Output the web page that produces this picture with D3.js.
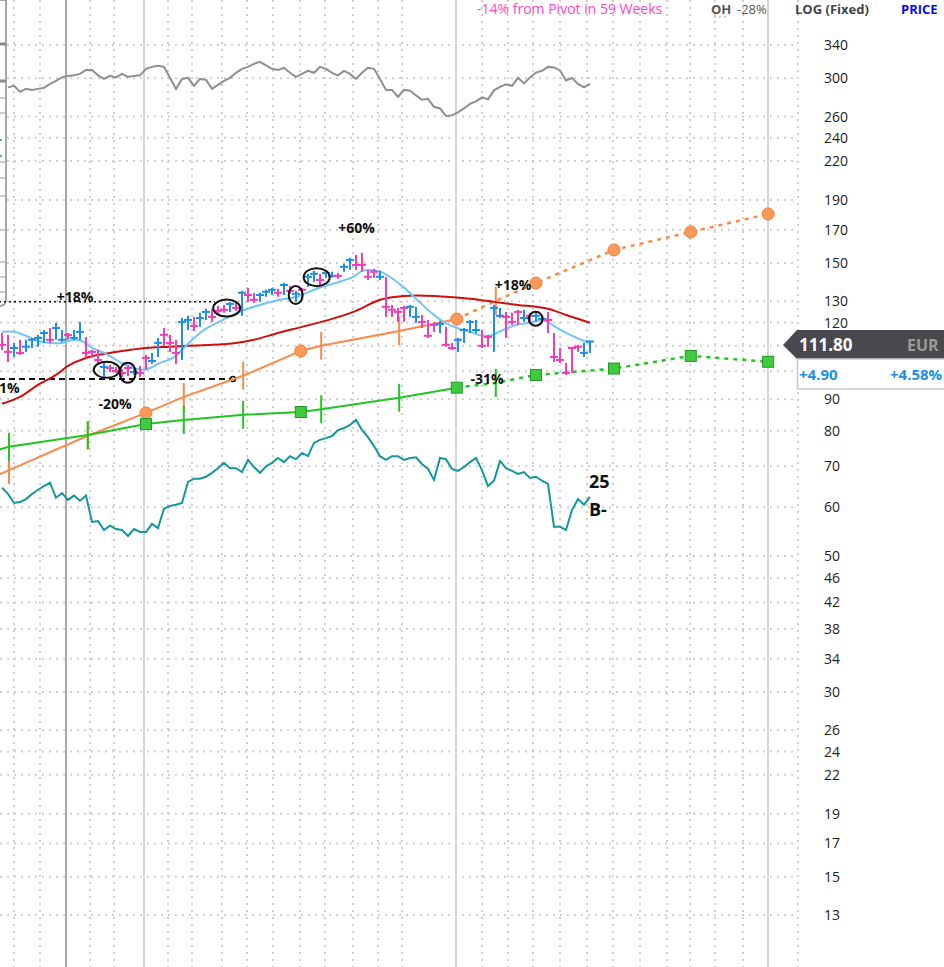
<!DOCTYPE html>
<html><head><meta charset="utf-8">
<script src="https://cdn.jsdelivr.net/npm/d3@7"></script>
<style>body{margin:0;background:#fff;overflow:hidden}svg{display:block;font-family:"Open Sans",sans-serif}</style>
</head><body><svg id="c" width="944" height="967"></svg>
<script>
// ---------- DATA ----------
const gridTicks = [340,300,260,240,220,190,170,150,130,120,110,100,90,80,70,60,50,46,42,38,34,30,26,24,22,19,17,15,13];
const labelTicks = [340,300,260,240,220,190,170,150,130,120,90,80,70,60,50,46,42,38,34,30,26,24,22,19,17,15,13];
const monthLines = [2,6.33,14.67,18.67,27.67,31.67,36.67,40.83,45.17,49.67,53.83,58.5,62.67,66.67,80,84.33,88.5,93,97.5,101.83,106.33,110.83,114.67,118.83,123.5,132.67];
const yearLines = [23.67,75.67,127.67];
const markerLine = 10.67;
// weekly bars (week index 0..98)
const barHigh  = [115.4,114.6,111.2,112.5,112.5,113.3,114.6,116.7,117.6,119.9,116.7,115.4,116.7,120.3,113.7,108.3,108.3,103.1,102.4,101.6,100.8,102.4,101.2,102.0,106.3,107.1,113.3,117.6,114.6,112.5,122.1,123.1,122.6,124.5,126.4,126.4,127.8,128.2,129.7,129.7,135.2,136.7,134.2,134.2,135.7,136.7,136.2,139.3,137.7,135.2,136.7,144.1,145.7,144.1,145.7,145.2,144.6,149.6,153.0,154.7,155.8,146.2,146.8,145.7,142.5,128.2,126.8,127.8,128.2,127.3,123.5,121.2,120.3,120.8,118.1,111.2,113.3,117.6,121.2,121.2,116.7,114.6,128.2,126.8,124.9,124.5,125.9,125.9,124.5,124.5,123.5,124.9,115.4,109.1,103.1,109.6,110.4,111.2,112.0];
const barLow   = [108.3,103.5,105.5,106.3,107.5,109.1,109.6,111.2,111.2,112.5,111.6,112.5,112.5,112.5,105.1,105.1,103.1,97.9,99.7,99.3,97.9,98.2,98.6,97.9,100.5,102.8,105.5,110.0,107.5,102.8,104.3,116.7,116.3,118.1,121.2,120.3,124.0,124.5,124.9,125.4,123.1,129.7,129.2,129.7,132.2,133.1,132.2,133.1,133.7,129.7,131.7,137.2,139.8,137.2,141.9,141.9,141.4,145.2,146.2,146.2,145.2,140.8,141.9,140.8,122.6,122.6,120.3,120.3,122.6,119.9,117.6,113.3,115.9,115.4,109.6,108.3,107.5,111.2,115.4,115.4,109.1,109.6,107.5,122.1,113.3,119.0,119.0,120.3,119.9,120.3,120.3,115.4,103.5,103.1,98.6,99.3,107.5,105.5,107.1];
const barClose = [110.4,107.5,109.1,107.1,109.6,112.5,113.3,115.4,112.5,117.6,112.5,114.6,113.3,115.9,107.1,107.5,104.3,101.6,101.2,100.1,99.3,101.2,99.7,99.3,105.1,103.9,111.2,114.6,111.2,107.1,120.3,121.2,118.5,122.1,124.9,122.6,125.4,125.9,128.7,126.8,134.2,133.1,130.7,133.1,134.7,135.7,134.2,138.2,135.2,133.7,135.7,142.5,144.1,140.8,144.6,143.0,143.0,147.9,151.8,149.0,149.0,142.5,145.2,142.5,127.3,125.9,124.9,126.8,127.3,122.6,120.3,114.2,119.0,119.4,110.4,109.1,112.5,116.7,120.3,116.7,110.0,113.7,126.8,123.1,122.6,120.3,124.9,122.1,123.1,123.1,121.7,121.2,105.5,104.3,99.3,109.1,109.6,107.1,111.8];
const barDir   = "dduduuuuduuduuddduddddudduuddduuduudddududduuudududuuduuduuddddudddduudddudduuuudduuddduduudddddduudu";
// moving averages [week, value]
const ma10 = [[0,115.9],[2,115.9],[4,114.2],[6,112.0],[8,111.2],[10,111.2],[12,112.5],[13.5,111.8],[15,109.1],[17,107.1],[18.5,105.1],[20,103.1],[22,101.2],[23.5,100.5],[24.7,101.2],[26.3,103.1],[28.5,105.1],[30,108.3],[31.7,112.5],[33,115.4],[34.2,117.6],[36.8,121.2],[39.7,125.1],[43,128.2],[46.3,130.7],[49.2,132.3],[51.3,134.8],[53.5,137.4],[56.3,139.9],[58.5,142.4],[60,145.7],[61.3,146.2],[63,145.4],[64.7,142.4],[66.8,137.4],[69.2,130.7],[71.3,125.1],[73.5,120.5],[75.8,117.6],[78,115.9],[80.2,114.2],[81.8,114.6],[83.5,116.7],[85.8,119.0],[88,119.9],[90.2,121.2],[92.5,117.6],[94.7,114.6],[96.8,112.2],[98,111.2]];
const ma40 = [[0,88.5],[3,90.8],[6,95.0],[9,98.6],[11,102.0],[14,105.1],[17,106.7],[20,107.9],[24,109.1],[28,109.6],[31,110.0],[35,110.4],[39,111.2],[42,112.5],[46,115.4],[50,118.1],[55,121.7],[59,125.4],[63,130.7],[67,132.6],[72,132.6],[78,131.2],[82,129.7],[86,128.2],[89,127.3],[91,126.4],[94,123.5],[98,119.9]];
// relative strength line (gray) from week 1, and teal line from week 0
const rsStart = 1;
const rsLine = [290.0,291.7,285.2,288.4,287.3,288.4,289.5,293.9,297.2,301.1,302.8,303.4,305.1,309.7,309.7,303.4,299.4,302.8,301.1,305.1,301.7,302.8,303.4,310.9,313.2,314.4,313.2,300.6,288.4,299.4,300.6,291.7,299.4,298.3,288.4,292.8,297.2,300.6,306.3,310.9,313.2,316.8,319.2,315.0,310.9,309.7,312.1,306.3,301.7,305.1,308.6,306.3,313.2,310.9,306.3,303.4,308.6,305.1,299.4,306.3,312.1,310.9,299.4,287.3,287.3,279.9,287.3,286.3,281.5,276.8,277.8,269.6,268.0,260.6,261.1,264.0,268.0,272.6,275.2,279.4,277.3,286.8,290.6,293.3,291.7,300.6,294.4,301.1,306.6,308.6,313.2,312.6,309.1,297.7,300.6,293.9,290.0,293.9];
const tealLine = [64.6,63.1,61.0,61.2,61.9,63.1,64.1,65.0,65.8,62.2,63.3,61.7,62.7,61.5,62.7,56.8,57.0,55.1,56.0,55.3,55.1,53.9,55.3,54.7,54.7,56.4,55.5,59.7,60.3,60.6,61.0,66.0,66.8,66.8,67.3,68.3,69.5,70.9,69.5,69.5,68.5,71.7,69.8,68.3,70.0,70.9,72.2,71.1,72.7,71.9,73.6,72.7,76.4,77.3,77.8,78.4,80.2,80.8,81.75,83.3,80.2,78.1,75.5,72.7,71.7,72.7,72.7,71.7,72.2,72.4,70.6,69.3,66.5,72.2,71.9,69.3,68.8,69.8,71.1,72.2,69.0,65.0,66.3,71.4,69.5,68.8,68.0,68.5,67.0,67.3,66.3,65.5,55.8,55.8,55.1,59.4,61.9,60.6,62.4];
// orange (EPS) and green (sales) lines: [week, value, marker]  t=tick, c=circle, s=square
const orangeActual = [[-2,66.8,""],[1.17,69.0,"t"],[14.3,78.5,"t"],[24,85.5,"c"],[30.3,90.8,"t"],[40.2,98.3,"t"],[49.8,107.9,"c"],[53.2,110.0,"t"],[66.2,116.3,"t"],[75.8,121.6,"c"]];
const orangeProj   = [[75.8,121.6,""],[82.3,130.2,"t"],[89,139.2,"c"],[102,157.6,"c"],[114.8,168.6,"c"],[127.7,180.4,"c"]];
const greenActual  = [[-2,73.9,""],[1.17,75.3,"t"],[14.3,78.7,"t"],[24,82.0,"s"],[30.3,83.3,"t"],[40.2,84.9,"t"],[49.8,85.8,"s"],[53.2,86.7,"t"],[66.2,90.5,"t"],[75.8,94.0,"s"]];
const greenProj    = [[75.8,94.0,""],[82.3,95.7,"t"],[89,98.6,"s"],[102,101.0,"s"],[114.8,105.9,"s"],[127.7,103.6,"s"]];
// annotations
const refLines = [{from:-0.5,to:35.5,v:129.7,dash:"2,3"},{from:-0.5,to:38.5,v:97.1,dash:"6,4"}];
const circles = [[17.45,100.5,13,8],[20.95,99.4,8,10],[37.45,126.7,13.5,8.5],[48.95,133.1,7,9],[52.45,142.3,13,9],[88.95,121.7,7,7]];
const pctLabels = [["+18%",12.17,129.7],["+60%",59.1,168.0],["-20%",18.83,86.8],["+18%",85.17,135.7],["-31%",80.83,95.4]];
const lastPrice = 111.80, change = "+4.90", changePct = "+4.58%", currency = "EUR";
const rsRating = "25", adRating = "B-";

// ---------- SCALES ----------
const svg = d3.select("#c");
const x = d3.scaleLinear().domain([0,132.67]).range([2,798]);
const y = d3.scaleLog().domain([13,340]).range([915,45]);

// ---------- GRID ----------
const g = svg.append("g");
g.selectAll(".hg").data(gridTicks).join("line")
 .attr("x1",0).attr("x2",x(132.67)).attr("y1",d=>y(d)).attr("y2",d=>y(d))
 .attr("stroke","#cfcfcf").attr("stroke-width",2).attr("stroke-dasharray","2,5");
g.selectAll(".vg").data(monthLines).join("line")
 .attr("x1",d=>x(d)).attr("x2",d=>x(d)).attr("y1",0).attr("y2",967)
 .attr("stroke","#cfcfcf").attr("stroke-width",2).attr("stroke-dasharray","2,5");
g.selectAll(".yg").data(yearLines).join("line")
 .attr("x1",d=>x(d)).attr("x2",d=>x(d)).attr("y1",0).attr("y2",967)
 .attr("stroke","#d4d4d4").attr("stroke-width",2);
g.append("line").attr("x1",x(markerLine)).attr("x2",x(markerLine)).attr("y1",0).attr("y2",967)
 .attr("stroke","#a8a8a8").attr("stroke-width",2);

// left cropped panel
const lp = svg.append("g");
lp.append("path").attr("d","M-10,0H6V299Q6,306 -1,306H-10Z").attr("fill","#fff").attr("stroke","#8a8a8a").attr("stroke-width",1.5);
[98,113,162,178,196,230,262,277,292].forEach(v=>lp.append("line").attr("x1",-10).attr("x2",6).attr("y1",v).attr("y2",v).attr("stroke","#9a9a9a").attr("stroke-width",1));
[44,81].forEach(v=>lp.append("line").attr("x1",0).attr("x2",6).attr("y1",v).attr("y2",v).attr("stroke","#8a8a8a").attr("stroke-width",3));
[140,156].forEach(v=>lp.append("line").attr("x1",0).attr("x2",2).attr("y1",v).attr("y2",v).attr("stroke","#3aa0f0").attr("stroke-width",2));

// ---------- LINES ----------
const line = d3.line().x(d=>x(d[0])).y(d=>y(d[1]));
const smooth = d3.line().x(d=>x(d[0])).y(d=>y(d[1])).curve(d3.curveCatmullRom.alpha(0.5));
svg.append("path").datum(rsLine.map((v,i)=>[i+rsStart,v])).attr("d",line)
 .attr("fill","none").attr("stroke","#8e8e8e").attr("stroke-width",2);
svg.append("path").datum(tealLine.map((v,i)=>[i,v])).attr("d",line)
 .attr("fill","none").attr("stroke","#14979a").attr("stroke-width",2);

// reference lines
refLines.forEach(r=>svg.append("line").attr("x1",x(r.from)).attr("x2",x(r.to)).attr("y1",y(r.v)).attr("y2",y(r.v))
 .attr("stroke","#111").attr("stroke-width",r.dash==="2,3"?1.5:2).attr("stroke-dasharray",r.dash));
svg.append("circle").attr("cx",x(38.5)).attr("cy",y(97.1)).attr("r",2.5).attr("fill","#fff").attr("stroke","#111").attr("stroke-width",1.5);

function fund(actual, proj, color, fill, stroke){
  svg.append("path").datum(actual).attr("d",line).attr("fill","none").attr("stroke",color).attr("stroke-width",2);
  svg.append("path").datum(proj).attr("d",line).attr("fill","none").attr("stroke",color).attr("stroke-width",2.5).attr("stroke-dasharray","4,5");
  const all = actual.concat(proj);
  all.filter(d=>d[2]==="t").forEach(d=>svg.append("line").attr("x1",x(d[0])).attr("x2",x(d[0]))
    .attr("y1",y(d[1])-14).attr("y2",y(d[1])+14).attr("stroke",color).attr("stroke-width",2));
  all.filter(d=>d[2]==="c").forEach(d=>svg.append("circle").attr("cx",x(d[0])).attr("cy",y(d[1])).attr("r",6)
    .attr("fill",fill).attr("stroke",stroke).attr("stroke-width",1));
  all.filter(d=>d[2]==="s").forEach(d=>svg.append("rect").attr("x",x(d[0])-5.5).attr("y",y(d[1])-5.5).attr("width",11).attr("height",11)
    .attr("fill",fill).attr("stroke",stroke).attr("stroke-width",1));
}
fund(orangeActual, orangeProj, "#fa8a48", "#fd9a5a", "#f07a38");
fund(greenActual, greenProj, "#22c422", "#3fca3f", "#1f9a1f");

svg.append("path").datum(ma40).attr("d",smooth).attr("fill","none").attr("stroke","#cc1010").attr("stroke-width",2);
svg.append("path").datum(ma10).attr("d",smooth).attr("fill","none").attr("stroke","#6fc6f4").attr("stroke-width",2);

// ---------- BARS ----------
const bars = barHigh.map((h,i)=>({i,h,l:barLow[i],c:barClose[i],up:barDir[i]==="u"}));
const bg = svg.append("g");
bars.forEach(b=>{
  const col = b.up ? "#1d8fe6" : "#f23cb8";
  bg.append("line").attr("x1",x(b.i)).attr("x2",x(b.i)).attr("y1",y(b.h)).attr("y2",y(b.l)).attr("stroke",col).attr("stroke-width",2);
  bg.append("line").attr("x1",x(b.i)-4).attr("x2",x(b.i)+4).attr("y1",y(b.c)).attr("y2",y(b.c)).attr("stroke",col).attr("stroke-width",2);
});

// ellipses
circles.forEach(c=>svg.append("ellipse").attr("cx",x(c[0])).attr("cy",y(c[1])).attr("rx",c[2]).attr("ry",c[3])
 .attr("fill","none").attr("stroke","#111").attr("stroke-width",2));

// labels
pctLabels.forEach(p=>svg.append("text").attr("x",x(p[1])).attr("y",y(p[2])).attr("text-anchor","middle")
 .attr("font-size",14).attr("font-weight","bold").attr("fill","#111").text(p[0]));
svg.append("text").attr("x",-1).attr("y",y(92.2)).attr("font-size",14).attr("font-weight","bold").attr("fill","#111").text("1%");
svg.append("text").attr("x",x(97.83)).attr("y",y(64.5)).attr("font-size",18).attr("font-weight","bold").attr("fill","#111").text(rsRating);
svg.append("text").attr("x",x(97.83)).attr("y",y(58.1)).attr("font-size",18).attr("font-weight","bold").attr("fill","#111").text(adRating);

// ---------- AXIS ----------
const ax = svg.append("g");
ax.selectAll("text").data(labelTicks).join("text").attr("x",824).attr("y",d=>y(d)+5)
 .attr("font-size",14).attr("fill","#222").text(d=>d);

// header
svg.append("text").attr("x",477).attr("y",14).attr("font-size",14).attr("fill","#ff45c8").text("-14% from Pivot in 59 Weeks");
svg.append("text").attr("x",711).attr("y",14).attr("font-size",13).attr("font-weight","bold").attr("fill","#555").text("OH");
svg.append("text").attr("x",737).attr("y",14).attr("font-size",13).attr("fill","#555").text("-28%");
[715,720,725].forEach(v=>svg.append("circle").attr("cx",v).attr("cy",17).attr("r",0.8).attr("fill","#888"));
svg.append("text").attr("x",795).attr("y",14).attr("font-size",13).attr("font-weight","bold").attr("fill","#444").text("LOG (Fixed)");
svg.append("text").attr("x",901).attr("y",14).attr("font-size",13).attr("font-weight","bold").attr("fill","#0a0af0").text("PRICE");

// price box
const py = y(lastPrice) + 3.5;
svg.append("path").attr("d",`M783,${py}L797,${py-15}H944V${py+14}H797Z`).attr("fill","#48484d");
svg.append("text").attr("x",799).attr("y",py+6).attr("font-size",17).attr("font-weight","bold").attr("fill","#fff").text(lastPrice.toFixed(2));
svg.append("text").attr("x",907).attr("y",py+6).attr("font-size",16).attr("font-weight","bold").attr("fill","#9a9a9a").text(currency);
svg.append("rect").attr("x",797.5).attr("y",py+14).attr("width",150).attr("height",30).attr("fill","#fff").attr("stroke","#c8c8c8").attr("stroke-width",1.5);
svg.append("text").attr("x",799).attr("y",py+35).attr("font-size",15).attr("font-weight","bold").attr("fill","#1d8fe6").text(change);
svg.append("text").attr("x",890).attr("y",py+35).attr("font-size",15).attr("font-weight","bold").attr("fill","#1d8fe6").text(changePct);
</script></body></html>
